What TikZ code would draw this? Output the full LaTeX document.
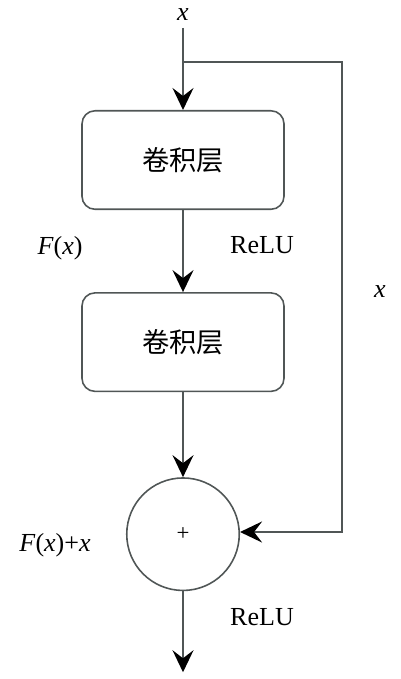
\documentclass[tikz,border=0pt]{standalone}
\usepackage{fontspec}
\setmainfont{Liberation Serif}
\newfontfamily\cjk{Noto Sans CJK SC}
\usepackage{tikz}
\usetikzlibrary{shapes,arrows.meta,positioning,calc}

\definecolor{linegray}{RGB}{80,86,86}

\begin{document}
\begin{tikzpicture}[
    node distance=1.64cm,
    box/.style={rectangle, rounded corners=0.26cm, draw=linegray, line width=0.9pt, minimum width=4.04cm, minimum height=1.97cm, font=\fontsize{15.5}{18}\selectfont\cjk},
    sumnode/.style={circle, draw=linegray, line width=0.9pt, minimum size=2.25cm, inner sep=0pt, font=\fontsize{13}{15}\selectfont},
    lbl/.style={font=\fontsize{14.8}{17}\selectfont},
    arrow/.style={-{Stealth[length=4.4mm, width=4.2mm, inset=1.6mm, black]}, draw=linegray, line width=1.1pt}
]
    \useasboundingbox (0,0) rectangle (8,-13.58);

    % Input
    \node[lbl] (xin) at (3.66,-0.3) {\textit{x}};
    \coordinate (start) at (3.66,-0.56);
    \coordinate (split) at (3.66,-1.24);

    % Residual block
    \node[box, below=1.64cm of start] (conv1) {卷积层};
    \node[box, below=of conv1] (conv2) {卷积层};
    \node[sumnode, below=1.7cm of conv2] (sum) {+};
    \coordinate[below=1.62cm of sum] (out);

    % Shortcut corners
    \coordinate (corner1) at (6.84,-1.24);
    \coordinate (corner2) at (6.84,-10.64);

    % Labels
    \node[lbl] (fx) at (1.2,-4.96) {\textit{F}(\textit{x})};
    \node[lbl] (relu1) at (5.24,-4.9) {ReLU};
    \node[lbl] (xskip) at (7.6,-5.84) {\textit{x}};
    \node[lbl] (fxx) at (1.1,-10.9) {\textit{F}(\textit{x})+\textit{x}};
    \node[lbl] (relu2) at (5.24,-12.34) {ReLU};

    % Arrows
    \draw[arrow] (start) -- (conv1);
    \draw[arrow] (conv1) -- (conv2);
    \draw[arrow] (conv2) -- (sum);
    \draw[arrow] (sum) -- (out);
    \draw[arrow] (split) -- (corner1) -- (corner2) -- (sum.east |- corner2);
\end{tikzpicture}
\end{document}
